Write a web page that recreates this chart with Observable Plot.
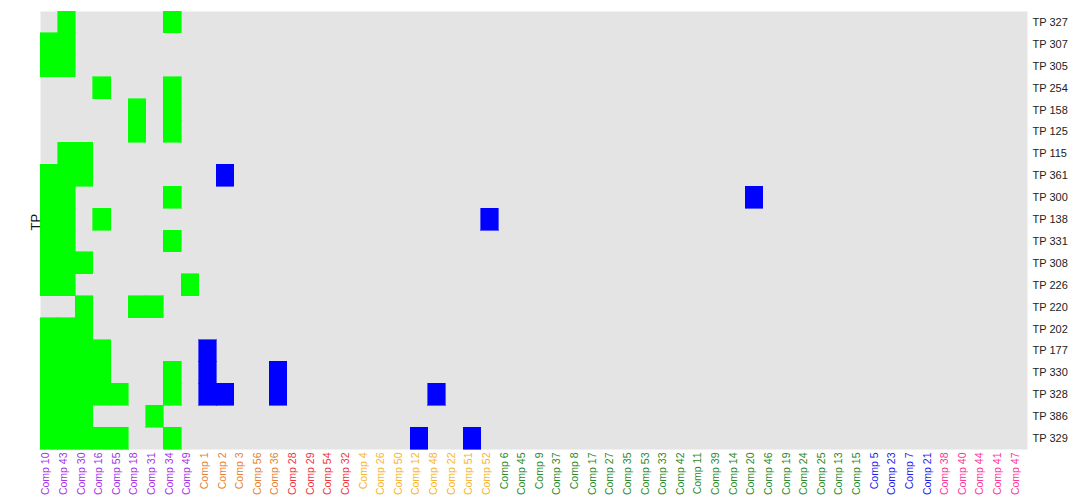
<!DOCTYPE html>
<html>
<head>
<meta charset="utf-8">
<script src="https://cdn.jsdelivr.net/npm/d3@7"></script>
<script src="https://cdn.jsdelivr.net/npm/@observablehq/plot@0.6"></script>
<style>
  html, body { margin: 0; padding: 0; background: #fff; }
  svg { font-family: "Liberation Sans", Arial, sans-serif; }
</style>
</head>
<body>
<div id="chart"></div>
<script>
const comps = ["Comp 10","Comp 43","Comp 30","Comp 16","Comp 55","Comp 18","Comp 31","Comp 34","Comp 49",
  "Comp 1","Comp 2","Comp 3","Comp 56","Comp 36",
  "Comp 28","Comp 29","Comp 54","Comp 32",
  "Comp 4","Comp 26","Comp 50","Comp 12","Comp 48","Comp 22","Comp 51","Comp 52",
  "Comp 6","Comp 45","Comp 9","Comp 37","Comp 8","Comp 17","Comp 27","Comp 35","Comp 53","Comp 33","Comp 42","Comp 11","Comp 39","Comp 14","Comp 20","Comp 46","Comp 19","Comp 24","Comp 25","Comp 13","Comp 15",
  "Comp 5","Comp 23","Comp 7","Comp 21",
  "Comp 38","Comp 40","Comp 44","Comp 41","Comp 47"];
const compGroupSizes = [9, 5, 4, 8, 21, 4, 5];
const groupColors = ["#a531e8", "#e8802e", "#f2323a", "#f8b42a", "#2a8a2a", "#1a1aee", "#ff3399"];
const tps = ["TP 327","TP 307","TP 305","TP 254","TP 158","TP 125","TP 115","TP 361","TP 300","TP 138",
  "TP 331","TP 308","TP 226","TP 220","TP 202","TP 177","TP 330","TP 328","TP 386","TP 329"];

// cells with a value: [TP, Comp list]
const typeACells = [
  ["TP 327", ["Comp 43","Comp 34"]],
  ["TP 307", ["Comp 10","Comp 43"]],
  ["TP 305", ["Comp 10","Comp 43"]],
  ["TP 254", ["Comp 16","Comp 34"]],
  ["TP 158", ["Comp 18","Comp 34"]],
  ["TP 125", ["Comp 18","Comp 34"]],
  ["TP 115", ["Comp 43","Comp 30"]],
  ["TP 361", ["Comp 10","Comp 43","Comp 30"]],
  ["TP 300", ["Comp 10","Comp 43","Comp 34"]],
  ["TP 138", ["Comp 10","Comp 43","Comp 16"]],
  ["TP 331", ["Comp 10","Comp 43","Comp 34"]],
  ["TP 308", ["Comp 10","Comp 43","Comp 30"]],
  ["TP 226", ["Comp 10","Comp 43","Comp 49"]],
  ["TP 220", ["Comp 30","Comp 18","Comp 31"]],
  ["TP 202", ["Comp 10","Comp 43","Comp 30"]],
  ["TP 177", ["Comp 10","Comp 43","Comp 30","Comp 16"]],
  ["TP 330", ["Comp 10","Comp 43","Comp 30","Comp 16","Comp 34"]],
  ["TP 328", ["Comp 10","Comp 43","Comp 30","Comp 16","Comp 55","Comp 34"]],
  ["TP 386", ["Comp 10","Comp 43","Comp 30","Comp 31"]],
  ["TP 329", ["Comp 10","Comp 43","Comp 30","Comp 16","Comp 55","Comp 34"]]
];
const typeBCells = [
  ["TP 361", ["Comp 2"]],
  ["TP 300", ["Comp 20"]],
  ["TP 138", ["Comp 52"]],
  ["TP 177", ["Comp 1"]],
  ["TP 330", ["Comp 1","Comp 36"]],
  ["TP 328", ["Comp 1","Comp 2","Comp 36","Comp 48"]],
  ["TP 329", ["Comp 12","Comp 51"]]
];

const compColor = new Map();
{
  let i = 0;
  compGroupSizes.forEach((n, g) => { for (let k = 0; k < n; k++) compColor.set(comps[i++], groupColors[g]); });
}
const cells = [];
typeACells.forEach(([tp, cs]) => cs.forEach(c => cells.push({tp, comp: c, type: "A"})));
typeBCells.forEach(([tp, cs]) => cs.forEach(c => cells.push({tp, comp: c, type: "B"})));

const chart = Plot.plot({
  width: 1070,
  height: 497,
  marginLeft: 40,
  marginRight: 43,
  marginTop: 11,
  marginBottom: 48,
  style: {fontFamily: "'Liberation Sans', Arial, sans-serif", fontSize: "11px"},
  x: {type: "band", domain: comps, padding: 0, round: false, axis: null},
  y: {type: "band", domain: tps, padding: 0, round: false, axis: null},
  color: {type: "ordinal", domain: ["A", "B"], range: ["#00ff00", "#0000ff"]},
  marks: [
    Plot.frame({fill: "#e4e4e4", stroke: null}),
    Plot.cell(cells, {x: "comp", y: "tp", fill: "type", stroke: "type", strokeWidth: 0.6, shapeRendering: "crispEdges"}),
    Plot.axisY({anchor: "right", tickSize: 0, tickPadding: 5, label: null, fontSize: 11, fill: "#222"}),
    Plot.text(comps, {x: d => d, frameAnchor: "bottom", rotate: -90, textAnchor: "end", dy: 3,
      fill: d => compColor.get(d), fontSize: 10.5}),
    Plot.text(["TP"], {frameAnchor: "left", rotate: -90, dx: -5, fontSize: 13, fill: "#111"})
  ]
});
document.getElementById("chart").appendChild(chart);
</script>
</body>
</html>
